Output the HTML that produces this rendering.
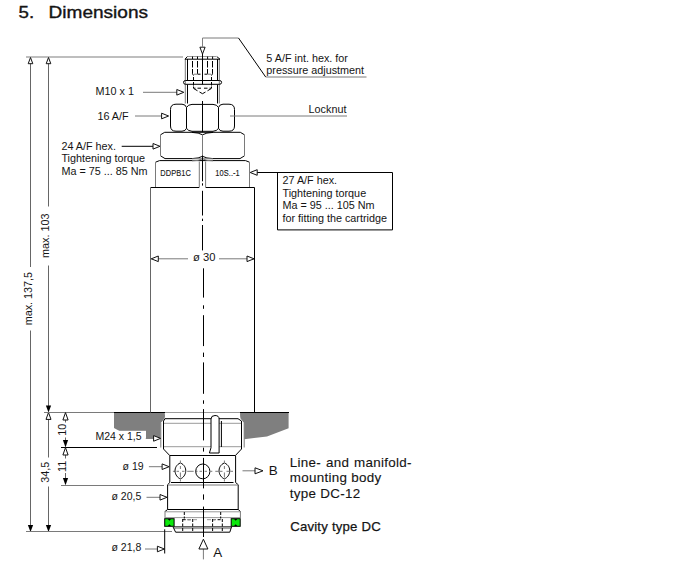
<!DOCTYPE html>
<html><head><meta charset="utf-8">
<style>
html,body{margin:0;padding:0;background:#fff;}
body{width:682px;height:566px;overflow:hidden;}
svg{display:block;}
text{font-family:"Liberation Sans",sans-serif;fill:#141414;}
.g{stroke:#7a7a7a;stroke-width:1;fill:none;}
.lg{stroke:#9a9a9a;stroke-width:1;fill:none;}
.dg{stroke:#666;stroke-width:1;fill:none;}
.k{stroke:#000;stroke-width:1;fill:none;}
.d{stroke:#000;stroke-width:1;fill:none;stroke-dasharray:3 2;}
.oa{fill:#fff;stroke:#111;stroke-width:1;}
.fa{fill:#000;stroke:none;}
.t11{font-size:10.8px;}
.big{font-size:13.4px;letter-spacing:0.3px;stroke:#141414;stroke-width:0.12px;}
</style></head>
<body>
<svg width="682" height="566" viewBox="0 0 682 566">
<!-- Title -->
<g style="stroke:#141414;stroke-width:0.35px;">
<text transform="translate(18.6,17.8) scale(1.17,1)" style="font-size:16px;">5.</text>
<text transform="translate(48.6,17.8) scale(1.19,1)" style="font-size:16px;">Dimensions</text>
</g>

<!-- ===== left dimension lines ===== -->
<path d="M26 57H183" stroke="#a8a8a8" stroke-width="1.6" fill="none"/>
<path class="dg" d="M30.5 60V267M30.5 330.5V526"/>
<path class="dg" d="M48.5 60V206.5M48.5 265.5V406M48.5 418V457.5M48.5 486.5V526"/>
<path class="oa" d="M30.5 57.5L28.2 63.7H32.8Z"/>
<path class="oa" d="M48.5 57.5L46.2 63.7H50.8Z"/>
<path class="fa" d="M30.5 532L27.9 525H33.1Z"/>
<path class="fa" d="M48.5 532L45.9 525H51.1Z"/>
<path class="fa" d="M48.5 412.5L45.9 405.6H51.1Z"/>
<path class="oa" d="M48.5 412.5L46 419.4H51Z"/>
<path class="g" d="M44 412.5H114"/>
<path class="k" d="M61 447.5H157"/>
<path class="g" d="M61 485.5H164"/>
<path class="g" d="M26 531.5H172"/>
<!-- 10 & 11 dims -->
<path class="dg" d="M65.5 420V422.5M65.5 437.5V441"/>
<path class="oa" d="M65.5 412.6L62.9 420H68.1Z"/>
<path class="fa" d="M65.5 447.4L62.9 440H68.1Z"/>
<path class="dg" d="M65.5 455V458.5M65.5 473V479"/>
<path class="oa" d="M65.5 447.6L62.9 455H68.1Z"/>
<path class="fa" d="M65.5 485.3L62.9 478H68.1Z"/>

<text class="t11" transform="translate(31.5,298.6) rotate(-90)" text-anchor="middle">max. 137,5</text>
<text class="t11" transform="translate(48.8,235.7) rotate(-90)" text-anchor="middle">max. 103</text>
<text class="t11" transform="translate(48.6,472.3) rotate(-90)" text-anchor="middle">34,5</text>
<text class="t11" transform="translate(65.6,429.8) rotate(-90)" text-anchor="middle">10</text>
<text class="t11" transform="translate(66.2,466.3) rotate(-90)" text-anchor="middle">11</text>

<!-- ===== manifold (gray) ===== -->
<path d="M114 412.5H164.7Q165.3 416 164.7 418.4L160.5 423.3V438.5H146V431H119.5L114 428Z" fill="#7f7f7f"/>
<path d="M240.2 412.5H288.6V428.2L267 436.4L244.2 439.3V423.3L240.5 418.4Q239.8 415 240.2 412.5Z" fill="#7f7f7f"/>
<path class="k" d="M114 412.5H165M240 412.5H289"/>
<path class="lg" d="M165 412.5H240"/>

<!-- adjustment screw -->
<path class="g" d="M185.3 59V103.5M219.3 59V103.5"/>
<path class="k" d="M187.5 59V80.3M217.5 59V80.3M187.5 84.5V103.5M217.5 84.5V103.5"/>
<path class="lg" d="M187.3 56.5H216.3"/>
<path class="k" d="M185 59.2H220M185 59.2L187.3 56.6M220 59.2L216.8 56.6"/>
<path class="k" d="M192.5 56.5V59M197.5 56.5V59M207.6 56.5V59M212.6 56.5V59"/>
<path class="k" d="M192.5 61V67.5M192.5 69V73.8M197.5 61V67.5M197.5 69V73.8M207.5 61V67.5M207.5 69V73.8M212.5 61V67.5M212.5 69V73.8"/>
<path class="k" d="M192.5 73.8L193.5 75.5M212.5 73.8L211.5 75.5M197.5 74.2H200.5M204.5 74.2H207.5"/>
<path class="g" d="M194 74.2H197M208 74.2H211"/>
<path class="k" d="M193.5 77V80M193.5 82V85.5M211.5 77V80M211.5 82V85.5M193.5 86.5V88.2H195.5M197.5 88.2H201M204 88.2H207.5M209.5 88.2H211.5V86.5"/>
<path class="k" d="M193.8 88.6L197.5 90.8M199.5 92L202.5 93.7L205.5 92M207.5 90.8L211.2 88.6"/>
<path d="M185.5 80.5H219.5Q221.6 80.5 221.6 82.4Q221.6 84.3 219.5 84.3H185.5Q183.5 84.3 183.5 82.4Q183.5 80.5 185.5 80.5Z" fill="none" stroke="#000" stroke-width="1"/>
<!-- locknut 16 A/F -->
<path class="k" d="M218.5 107.5Q219.5 104.2 223 104.2H229Q234.5 104.2 234.5 109.5V126Q234.5 131.2 229 131.2H223Q219.5 131.2 218.5 128.3" fill="#fff"/>
<path class="k" d="M186.5 107.5Q185.5 104.2 182 104.2H176Q170.5 104.2 170.5 109.5V126Q170.5 131.2 176 131.2H182Q185.5 131.2 186.5 128.3" fill="#fff"/>
<path class="k" d="M186.5 107.5Q188 104.5 192 104.4H213Q217 104.5 218.5 107.5M186.5 128.3Q188 131 192 131.3H213Q217 131 218.5 128.3"/>
<path class="k" d="M186.5 107.5V128.3M218.5 107.5V128.3"/>

<!-- hex 24 A/F -->
<path class="k" d="M160.5 134.8L164.7 132.3H240.3L244.5 134.8M160.5 155.8L165 158.6H192M213 158.6H240L244.5 155.8"/>
<path class="g" d="M160.5 134.8V155.8M244.5 134.8V155.8"/>
<path class="k" d="M192 132.4Q199 132.6 202.5 134.8Q206 132.6 213 132.4M192 158.6Q199 158.4 202.5 156.3Q206 158.4 213 158.6"/>
<path class="g" d="M202.5 134.8V156"/>

<!-- hex 27 A/F (marked) -->
<path class="k" d="M155.5 162.2L159.5 160.6H245.5L249.5 162.2"/>
<path class="g" d="M155.5 162.2V187.5M249.5 162.2V187.5"/>
<path class="g" d="M192 158.8H213"/>
<path class="g" d="M192 160.8Q199 161 202.5 158.7Q206 161 213 160.8"/>
<path class="g" d="M199.3 161.5V187M205.6 161.5V187"/>
<text transform="translate(160.3,175.8) scale(0.9,1)" style="font-size:8.3px;letter-spacing:0.1px;stroke:#141414;stroke-width:0.1px;">DDPB1C</text>
<text transform="translate(215.2,175.8) scale(0.9,1)" style="font-size:8.3px;letter-spacing:0.1px;stroke:#141414;stroke-width:0.1px;">10S..-1</text>

<!-- body -->
<path class="dg" d="M150.5 188V412.5"/><path class="k" d="M150.5 187.5H199.3M205.6 187.5H254.5V412.5"/>
<!-- ø30 -->
<path class="g" d="M151 258.8H188M219 258.8H254"/>
<path class="oa" d="M151.3 258.8L158.3 256V261.6Z"/>
<path class="oa" d="M254 258.8L247 256V261.6Z"/>
<text x="193" y="261.2" style="font-size:11.2px;">ø 30</text>

<!-- ===== lower cartridge ===== -->
<!-- M24 thread -->
<path class="k" d="M165 418.7H238M165 418.7L163.5 421V449L169.5 455.3M238 418.7L241.5 421V449L235.6 455.3"/>
<path class="g" d="M160.8 423V447.5M244.2 423V447.5"/>
<path class="lg" d="M164 423.3H241M164 446.7H241"/>
<path class="k" d="M169.5 455.5H235.6"/>
<!-- slot -->
<path d="M209.4 453L211 447.7V419Q211 415.5 215 415.5Q219.1 415.5 219.1 419V453Z" fill="#fff" stroke="#000" stroke-width="1"/>
<path class="k" d="M221.4 421V447"/>
<!-- ø19 section -->
<path class="k" d="M169.8 455.6V482.5L167.6 484.7V509.5M235.6 455.6V482.5L238.2 484.7V509.5"/>
<path class="k" d="M171 482.5H233.5"/>
<path class="g" d="M168 485H238"/>
<!-- holes -->
<path class="g" d="M172.9 471.3H175M176.5 471.3H179M182 471.3H184.5M187.2 471.3H193.7M195.7 471.3H197.5M199.5 471.3H202M204.5 471.3H207M210.7 471.3H212.3M215.3 471.3H218.4M220 471.3H222.5M226.5 471.3H229M230.5 471.3H233"/>
<ellipse cx="202.8" cy="471.4" rx="7.1" ry="7.4" class="k"/>
<path class="k" d="M180.4 462.9C188.5 466.5 186.5 476.5 180.4 478.9C174.3 476.5 172.3 466.5 180.4 462.9Z"/>
<path class="k" d="M224.4 462.9C232.5 466.5 230.5 476.5 224.4 478.9C218.3 476.5 216.3 466.5 224.4 462.9Z"/>
<path class="g" d="M180.4 460.5V462.5M180.4 466V469M180.4 472.5V477.5M180.4 479.5V481.5M224.4 460.5V462.5M224.4 466V469M224.4 472.5V477.5M224.4 479.5V481.5"/>
<!-- bottom section -->
<path class="k" d="M167.6 509.5H238.2M167.6 509.5L165 511.5M238.2 509.5L240.4 511.5"/>
<path class="g" d="M165 511V518M240.4 511V518"/>
<path class="lg" d="M165.5 511.8H240"/>
<path class="lg" d="M165 517.6H240"/>
<path class="k" d="M173.7 526.9H231.7"/>
<path class="lg" d="M174 528.6H231"/>
<path class="k" d="M173.1 527L175.6 532.2H229.8L231.5 527"/>
<path class="d" d="M182.7 519V532M192.7 519V532M212.6 519V532M222.3 519V532M184.3 512V518.5M220.7 512V518.5" style="stroke-dasharray:3 1.5"/>
<path class="d" d="M182.7 519.7H192.7M212.6 519.7H222.3"/>
<path class="lg" d="M187 519.7H198M207 519.7H215" style="stroke-dasharray:4 2"/>
<g stroke="#000" stroke-width="1">
<rect x="164.7" y="518.7" width="9.4" height="7.6" fill="#0be80b"/>
<rect x="231.2" y="518.7" width="9.0" height="7.6" fill="#0be80b"/>
</g>
<path d="M167.8 519L169.4 520.8L171 519ZM167.8 526L169.4 524.2L171 526ZM234.1 519L235.7 520.8L237.3 519ZM234.1 526L235.7 524.2L237.3 526Z" fill="#000"/>

<!-- ===== labels with arrows ===== -->
<!-- 5 A/F leader -->
<path class="g" d="M202.5 38H238.5"/><path class="k" d="M238.5 38L265.7 77"/><path class="g" d="M265.7 77H366.5"/>
<path class="oa" d="M202.5 54L199.9 47.2H205.1Z"/>
<text class="t11" x="266.3" y="61.7">5 A/F int. hex. for</text>
<text class="t11" x="266.3" y="73.5">pressure adjustment</text>

<text class="t11" x="95.6" y="95">M10 x 1</text>
<path class="g" d="M143 92.3H177.5"/>
<path class="oa" d="M183.8 92.3L176.8 89.5V95.1Z"/>

<text class="t11" x="97.4" y="119.8">16 A/F</text>
<path class="g" d="M135 116H162"/>
<path class="oa" d="M168.6 116L161.6 113.2V118.8Z"/>

<path class="g" d="M230 116H347"/>
<text class="t11" x="308.6" y="113">Locknut</text>

<text class="t11" x="61.4" y="149.8">24 A/F hex.</text>
<text class="t11" x="61.4" y="162.3">Tightening torque</text>
<text class="t11" x="61.4" y="175.2">Ma = 75 ... 85 Nm</text>
<path class="k" d="M121.7 146.3H153.5"/>
<path class="oa" d="M160 146.3L153 143.5V149.1Z"/>

<!-- 27 A/F box -->
<path class="k" d="M256.4 172.5H392.5V229.9H277.5V172.5"/>
<path class="oa" d="M250.2 172.5L257.2 169.7V175.3Z"/>
<text class="t11" x="282.5" y="183.7">27 A/F hex.</text>
<text class="t11" x="282.5" y="196.5">Tightening torque</text>
<text class="t11" x="282.5" y="209.1">Ma = 95 ... 105 Nm</text>
<text class="t11" x="282.5" y="221.6">for fitting the cartridge</text>

<!-- lower labels -->
<rect x="94" y="430.8" width="52" height="8" fill="#fff"/>
<text style="font-size:10.5px" x="95.4" y="439.8">M24 x 1,5</text>
<path class="g" d="M145.8 438.4H154"/>
<path class="oa" d="M160.6 438.4L153.6 435.6V441.2Z"/>

<text style="font-size:10.5px" x="122.6" y="469.5">ø 19</text>
<path class="g" d="M148.9 466.7H162.5"/>
<path class="oa" d="M169.1 466.7L162.1 463.9V469.5Z"/>

<text style="font-size:10.5px" x="111.5" y="499.6">ø 20,5</text>
<path class="g" d="M146.5 497.3H160.5"/>
<path class="oa" d="M167 497.3L160 494.5V500.1Z"/>

<text style="font-size:10.5px" x="111.5" y="551.1">ø 21,8</text>
<path class="g" d="M145 549H158"/>
<path class="oa" d="M164.4 549L157.4 546.2V551.8Z"/>
<path class="k" d="M164.7 529.3V553.5"/>

<!-- B -->
<path class="g" d="M242.5 470.8H256.5"/>
<path class="oa" d="M263 470.8L255 467.8V473.8Z"/>
<text x="268.8" y="474.8" style="font-size:13.4px;">B</text>
<!-- A -->
<path class="g" d="M203.4 548V559.4"/>
<path class="oa" d="M203.4 539.2L198.9 549H207.9Z"/>
<text x="213.2" y="556.5" style="font-size:13.4px;">A</text>

<text class="big" x="289.8" y="466.8" style="word-spacing:0.8px">Line- and manifold-</text>
<text class="big" x="289.8" y="482.3">mounting body</text>
<text class="big" x="289.8" y="498.1">type DC-12</text>
<text x="290.2" y="530.9" style="font-size:13.2px;letter-spacing:0.2px;stroke:#141414;stroke-width:0.25px;">Cavity type DC</text>
<!-- ===== center line ===== -->
<g class="k">
<path d="M202.5 38V47.5" style="stroke:#808080"/>
<path d="M202.5 54V84.3M202.5 101V132.2M202.5 155.5V181.3M202.5 183.3V185.6M202.5 190.8V215.5M202.5 218.7V221M202.5 225V250.4"/>
<path d="M203.5 268.3V297.6M203.5 305.3V308.8M203.5 315.2V346.1M203.5 352.6V357M203.5 362.4V393.8M203.5 400.3V403.8M203.5 409.1V440.4M203.5 447.7V451.6M203.5 457.9V488.4M203.5 494.4V499.7M203.5 506.6V537"/>
</g>

</svg>
</body></html>
